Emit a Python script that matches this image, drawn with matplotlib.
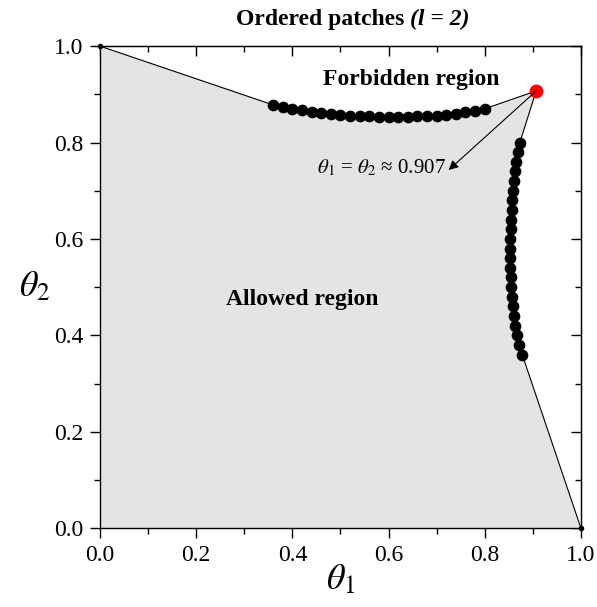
import matplotlib
matplotlib.use("Agg")
import matplotlib.pyplot as plt
from matplotlib.ticker import MultipleLocator

plt.rcParams["font.family"] = ["Liberation Serif", "DejaVu Serif"]
plt.rcParams["mathtext.fontset"] = "stix"

# top branch of the boundary (theta1 stepping by 0.02)
top_t1 = [0.36, 0.38, 0.40, 0.42, 0.44, 0.46, 0.48, 0.50, 0.52, 0.54, 0.56, 0.58,
          0.60, 0.62, 0.64, 0.66, 0.68, 0.70, 0.72, 0.74, 0.76, 0.78, 0.80]
top_t2 = [0.878, 0.874, 0.870, 0.867, 0.864, 0.861, 0.859, 0.857, 0.856, 0.855, 0.854, 0.853,
          0.853, 0.853, 0.853, 0.854, 0.855, 0.856, 0.858, 0.860, 0.863, 0.866, 0.870]

# right branch (theta2 stepping by 0.02, from top to bottom)
right_t2 = [0.80, 0.78, 0.76, 0.74, 0.72, 0.70, 0.68, 0.66, 0.64, 0.62, 0.60, 0.58,
            0.56, 0.54, 0.52, 0.50, 0.48, 0.46, 0.44, 0.42, 0.40, 0.38, 0.36]
right_t1 = [0.873, 0.869, 0.866, 0.863, 0.861, 0.859, 0.857, 0.856, 0.855, 0.854, 0.853, 0.853,
            0.853, 0.853, 0.854, 0.855, 0.856, 0.858, 0.861, 0.864, 0.867, 0.872, 0.878]

crit = 0.907
corners_t1 = [0.0, 1.0]
corners_t2 = [1.0, 0.0]

fig = plt.figure(figsize=(5.97, 6.07), dpi=100)
ax = fig.add_axes([0.1675, 0.130, 0.8055, 0.794])

# boundary polygon of the allowed region
bx = [0.0] + top_t1 + [crit] + right_t1 + [1.0, 0.0]
by = [1.0] + top_t2 + [crit] + right_t2 + [0.0, 0.0]
ax.fill(bx, by, color="#e4e4e4", zorder=1, lw=0)

# connecting lines
ax.plot([0.0, top_t1[0]], [1.0, top_t2[0]], color="black", lw=0.8, zorder=2)
ax.plot([top_t1[-1], crit, right_t1[0]], [top_t2[-1], crit, right_t2[0]],
        color="black", lw=0.8, zorder=2)
ax.plot([right_t1[-1], 1.0], [right_t2[-1], 0.0], color="black", lw=0.8, zorder=2)

ax.plot(top_t1, top_t2, "o", color="black", ms=7.4, zorder=3)
ax.plot(right_t1, right_t2, "o", color="black", ms=7.4, zorder=3)
ax.plot(corners_t1, corners_t2, "o", color="black", ms=3, zorder=3, clip_on=False)
ax.plot([crit], [crit], "o", color="red", ms=9, zorder=4)

ax.annotate("", xy=(0.725, 0.743), xytext=(crit, crit),
            arrowprops=dict(arrowstyle="-|>", color="black", lw=0.8,
                            mutation_scale=14, shrinkA=0, shrinkB=0), zorder=4)
ax.text(0.585, 0.748, r"$\theta_{1}$ = $\theta_{2}$ ≈ 0.907",
        fontsize=15, ha="center", va="center")

ax.text(0.647, 0.93, "Forbidden region", fontsize=17, fontweight="bold",
        ha="center", va="center")
ax.text(0.42, 0.475, "Allowed region", fontsize=17, fontweight="bold",
        ha="center", va="center")

ax.set_xlim(0, 1)
ax.set_ylim(0, 1)
ax.xaxis.set_major_locator(MultipleLocator(0.2))
ax.xaxis.set_minor_locator(MultipleLocator(0.1))
ax.yaxis.set_major_locator(MultipleLocator(0.2))
ax.yaxis.set_minor_locator(MultipleLocator(0.1))
ax.xaxis.set_major_formatter(lambda v, p: f"{v:.1f}")
ax.yaxis.set_major_formatter(lambda v, p: f"{v:.1f}")

ax.tick_params(which="both", direction="out", top=False, right=False,
               labelsize=17, width=1)
ax.tick_params(which="major", length=7, pad=5)
ax.tick_params(which="minor", length=4)
# inward ticks on top and right
ax2 = ax.secondary_xaxis("top")
ax2.xaxis.set_major_locator(MultipleLocator(0.2))
ax2.xaxis.set_minor_locator(MultipleLocator(0.1))
ax2.tick_params(which="both", direction="in", labeltop=False, width=1)
ax2.tick_params(which="major", length=7)
ax2.tick_params(which="minor", length=4)
ay2 = ax.secondary_yaxis("right")
ay2.yaxis.set_major_locator(MultipleLocator(0.2))
ay2.yaxis.set_minor_locator(MultipleLocator(0.1))
ay2.tick_params(which="both", direction="in", labelright=False, width=1)
ay2.tick_params(which="major", length=7)
ay2.tick_params(which="minor", length=4)

for sp in ax.spines.values():
    sp.set_linewidth(1)

ax.set_xlabel(r"$\theta_{1}$", fontsize=26, labelpad=-2)
ax.set_ylabel(r"$\theta_{2}$", fontsize=26, rotation=0, labelpad=14, va="center")

# title: upright bold part followed by bold italic part
t1 = ax.text(0.645, 1.055, "Ordered patches ", transform=ax.transAxes,
             fontsize=17, fontweight="bold", ha="right", va="center")
ax.annotate("(l = 2)", xy=(1, 0), xycoords=t1, fontsize=17, fontweight="bold",
            fontstyle="italic", ha="left", va="bottom")

fig.savefig("out.png", dpi=100)
